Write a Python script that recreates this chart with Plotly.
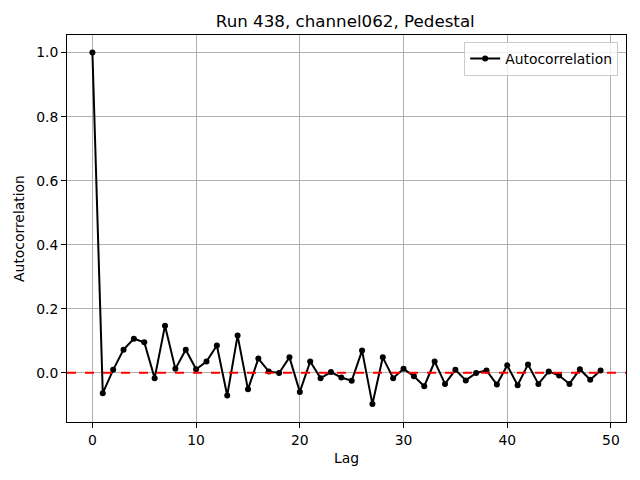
import plotly.graph_objects as go

# autocorrelation values, lags 0..49
lags = list(range(50))
acf = [
    1.000, -0.064, 0.009, 0.072, 0.106, 0.095, -0.017, 0.147, 0.012, 0.072,
    0.011, 0.035, 0.085, -0.071, 0.116, -0.052, 0.044, 0.004, -0.001, 0.048,
    -0.060, 0.035, -0.017, 0.002, -0.015, -0.025, 0.069, -0.098, 0.048, -0.017,
    0.012, -0.011, -0.042, 0.035, -0.035, 0.009, -0.024, -0.001, 0.007, -0.037,
    0.023, -0.039, 0.026, -0.035, 0.004, -0.009, -0.035, 0.011, -0.022, 0.007,
]
title = "Run 438, channel062, Pedestal"

fig = go.Figure()
fig.add_trace(go.Scatter(
    x=lags, y=acf, mode="lines+markers", name="Autocorrelation",
    line=dict(color="black", width=2),
    marker=dict(color="black", size=6),
    showlegend=True,
))
fig.add_hline(y=0, line=dict(color="red", width=2, dash="dash"))

axis_style = dict(
    showgrid=True, gridcolor="#b0b0b0", gridwidth=1,
    showline=True, linecolor="black", linewidth=1, mirror=True,
    ticks="outside", ticklen=5, tickcolor="black",
    zeroline=False, tickfont=dict(size=13.9, color="black"),
    automargin=False,
)
fig.update_xaxes(range=[-2.45, 51.45], tickvals=[0, 10, 20, 30, 40, 50],
                 title=dict(text="Lag", font=dict(size=13.9), standoff=6), **axis_style)
fig.update_yaxes(range=[-0.154, 1.055], tickvals=[0, 0.2, 0.4, 0.6, 0.8, 1.0],
                 tickformat=".1f",
                 title=dict(text="Autocorrelation", font=dict(size=13.9), standoff=8), **axis_style)

# the page body adds an 8px offset, so margins are shifted to compensate
fig.update_layout(
    width=640, height=480,
    margin=dict(l=59, r=22, t=27, b=66),
    plot_bgcolor="white", paper_bgcolor="white",
    font=dict(family="DejaVu Sans", color="black"),
    title=dict(text=title, x=0.527, xanchor="center", y=0.973, yanchor="middle",
               font=dict(size=16.7), automargin=False),
    showlegend=True,
    legend=dict(x=0.986, y=0.982, xanchor="right", yanchor="top",
                bgcolor="rgba(255,255,255,0.8)", bordercolor="#cccccc", borderwidth=1,
                font=dict(size=13.9), itemwidth=30),
)

fig.write_html("out.html")
